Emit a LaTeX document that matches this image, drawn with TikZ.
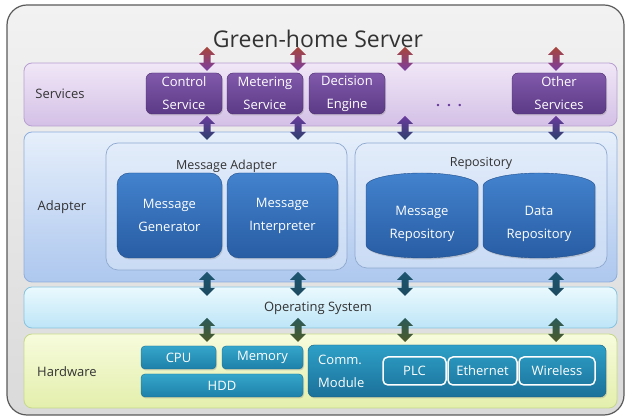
\documentclass[tikz,border=0pt]{standalone}
\usepackage{fontspec}
\setmainfont{Open Sans}
\usetikzlibrary{shadows}
\definecolor{outerTop}{HTML}{F2F2F2}
\definecolor{outerBot}{HTML}{DADADA}
\definecolor{outerLine}{HTML}{5A5A5A}
\definecolor{svTop}{HTML}{F0E7F7}
\definecolor{svBot}{HTML}{D4C0E6}
\definecolor{svLine}{HTML}{B7A0D0}
\definecolor{puTop}{HTML}{8159AB}
\definecolor{puBot}{HTML}{5B3A86}
\definecolor{adTop}{HTML}{E6EFFB}
\definecolor{adBot}{HTML}{ADC7EE}
\definecolor{adLine}{HTML}{8EAEDD}
\definecolor{ctTop}{HTML}{E2ECFA}
\definecolor{ctBot}{HTML}{C9DBF4}
\definecolor{ctLine}{HTML}{8FA9CF}
\definecolor{blTop}{HTML}{4382CE}
\definecolor{blBot}{HTML}{285DA3}
\definecolor{osTop}{HTML}{EAF9FE}
\definecolor{osBot}{HTML}{BDE5F7}
\definecolor{osLine}{HTML}{86C3E0}
\definecolor{hwTop}{HTML}{F7FBDC}
\definecolor{hwBot}{HTML}{E3EFAC}
\definecolor{hwLine}{HTML}{C6D98A}
\definecolor{tlTop}{HTML}{35A6CB}
\definecolor{tlBot}{HTML}{1E80A8}
\definecolor{cmTop}{HTML}{2EA0C7}
\definecolor{cmBot}{HTML}{1B7099}
\definecolor{txt}{HTML}{333333}
\definecolor{arBrown}{HTML}{A8453A}
\definecolor{arPurple}{HTML}{7A3FA2}
\definecolor{arPurple2}{HTML}{6A3C9E}
\definecolor{arNavy}{HTML}{2C3F6C}
\definecolor{arTeal}{HTML}{1E5670}
\definecolor{arTeal2}{HTML}{1C4A60}
\definecolor{arGreen}{HTML}{2B5A58}
\definecolor{arOlive}{HTML}{4C5A28}
\newcommand\dblarr[5]{%
  \pgfmathsetmacro\dashaft{#3-#2-16}%
  \shade[top color=#4,bottom color=#5] (#1,#2) -- ++(8,8) -- ++(-4.5,0) -- ++(0,\dashaft) -- ++(4.5,0) -- ++(-8,8) -- ++(-8,-8) -- ++(4.5,0) -- ++(0,-\dashaft) -- ++(-4.5,0) -- cycle;}
\begin{document}
\begin{tikzpicture}[x=1pt,y=-1pt,
  every node/.style={inner sep=0pt, align=center},
  band/.style={rounded corners=8pt, line width=0.8pt},
  lbl/.style={font=\fontsize{13}{16}\selectfont, text=txt},
  boxtxt/.style={font=\fontsize{13}{23}\selectfont, text=white},
  shd/.style={drop shadow={opacity=0.3, shadow xshift=1pt, shadow yshift=-1.5pt}},
  svc/.style={boxtxt, shd, rounded corners=6pt, top color=puTop, bottom color=puBot, draw=puBot!80!black, line width=0.4pt, minimum height=41pt},
  cont/.style={rounded corners=12pt, top color=ctTop, bottom color=ctBot, draw=ctLine, line width=0.7pt},
  blbox/.style={boxtxt, shd, rounded corners=12pt, top color=blTop, bottom color=blBot, draw=blBot!85!black, line width=0.4pt, minimum height=85pt},
  tlbox/.style={boxtxt, shd, rounded corners=4pt, top color=tlTop, bottom color=tlBot, draw=tlBot!85!black, line width=0.4pt, minimum height=23pt},
  wbox/.style={boxtxt, rounded corners=5pt, draw=white, line width=1.5pt, minimum height=28pt}
]
\useasboundingbox (0,0) rectangle (630,419);
% outer frame
\node[draw=outerLine, line width=1.2pt, rounded corners=20pt, top color=outerTop, bottom color=outerBot,
      minimum width=617pt, minimum height=410pt] (outer) at (315.5,210) {};
\node[font=\fontsize{23}{26}\selectfont, text=txt] (title) at (318,39) {Green-home Server};

% layers
\node[band, draw=svLine, top color=svTop, bottom color=svBot, minimum width=593pt, minimum height=63pt] (services) at (320.5,94.5) {};
\node[band, draw=adLine, top color=adTop, bottom color=adBot, minimum width=593pt, minimum height=150pt] (adapter) at (320.5,207) {};
\node[band, draw=osLine, top color=osTop, bottom color=osBot, minimum width=593pt, minimum height=41pt] (os) at (320.5,307.5) {};
\node[band, draw=hwLine, top color=hwTop, bottom color=hwBot, minimum width=593pt, minimum height=74pt] (hw) at (320.5,371) {};

\node[lbl] (lservices) at (60,94) {Services};
\node[lbl] (ladapter) at (62,207) {Adapter};
\node[lbl] (los) at (318,308) {Operating System};
\node[lbl] (lhw) at (67,372) {Hardware};

% services
\node[svc, minimum width=76pt] (ctrl) at (184,93.5) {Control\\Service};
\node[svc, minimum width=76pt] (meter) at (265,93.5) {Metering\\Service};
\node[svc, minimum width=76pt] (decision) at (347,93.5) {Decision\\Engine};
\node[svc, minimum width=94pt] (other) at (559,93.5) {Other\\Services};
\node[font=\fontsize{14}{16}\selectfont\bfseries, text=arPurple2] (dots) at (449,106) {.\hspace{7pt}.\hspace{7pt}.};

% adapter
\node[cont, minimum width=241pt, minimum height=127pt] (madapter) at (226.5,206.5) {};
\node[lbl, font=\fontsize{12.5}{15}\selectfont] (lmadapter) at (226.5,166) {Message Adapter};
\node[blbox, minimum width=105pt] (mgen) at (169.5,215.5) {Message\\Generator};
\node[blbox, minimum width=111pt] (mint) at (282.5,215.5) {Message\\Interpreter};

\node[cont, minimum width=252pt, minimum height=125pt] (repo) at (481,205.5) {};
\node[lbl, font=\fontsize{12.5}{15}\selectfont] (lrepo) at (481,163) {Repository};
\shade[top color=blTop, bottom color=blBot, draw=blBot!85!black, line width=0.4pt, shd]
  (366,186) -- (366,245) arc[start angle=180,end angle=360,x radius=56pt,y radius=13pt]
  -- (478,186) arc[start angle=0,end angle=180,x radius=56pt,y radius=13pt] -- cycle;
\shade[top color=blTop, bottom color=blBot, draw=blBot!85!black, line width=0.4pt, shd]
  (483,186) -- (483,245) arc[start angle=180,end angle=360,x radius=56pt,y radius=13pt]
  -- (595,186) arc[start angle=0,end angle=180,x radius=56pt,y radius=13pt] -- cycle;
\node[boxtxt] (mrepo) at (422,224) {Message\\Repository};
\node[boxtxt] (drepo) at (539,224) {Data\\Repository};

% hardware
\node[tlbox, minimum width=75pt] (cpu) at (178.5,357.5) {CPU};
\node[tlbox, minimum width=81pt] (mem) at (262.5,357.5) {Memory};
\node[tlbox, minimum width=162pt] (hdd) at (222,385.5) {HDD};
\node[shd, rounded corners=6pt, top color=cmTop, bottom color=cmBot, draw=cmBot!85!black, line width=0.4pt,
      minimum width=298pt, minimum height=52pt] (comm) at (457,371) {};
\node[boxtxt, align=left, anchor=west] (lcomm) at (318,371) {Comm.\\Module};
\node[wbox, minimum width=63pt] (plc) at (414.5,371) {PLC};
\node[wbox, minimum width=69pt] (eth) at (482.5,371) {Ethernet};
\node[wbox, minimum width=76pt] (wless) at (557,371) {Wireless};

% arrows
\foreach \x in {207,298,405,556} {
  \dblarr{\x}{47}{71}{arBrown}{arPurple}
  \dblarr{\x}{116}{140}{arPurple2}{arNavy}
  \dblarr{\x}{272}{296}{arTeal}{arTeal2}
  \dblarr{\x}{318}{342}{arGreen}{arOlive}
}
\end{tikzpicture}
\end{document}
